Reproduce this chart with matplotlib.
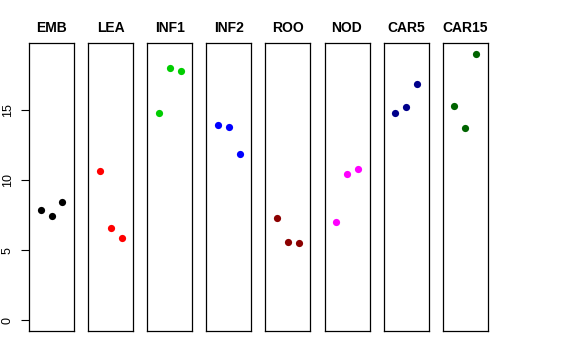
import matplotlib
matplotlib.use("Agg")
import matplotlib.pyplot as plt

plt.rcParams['font.family'] = ['Liberation Sans', 'DejaVu Sans']

tissues = ["EMB", "LEA", "INF1", "INF2", "ROO", "NOD", "CAR5", "CAR15"]
colors = ["black", "red", "#00CD00", "blue", "#8B0000", "magenta", "#00008B", "#006400"]
reps = [1, 2, 3]
emb = [7.88, 7.40, 8.40]
lea = [10.61, 6.58, 5.84]
inf1 = [14.80, 17.96, 17.77]
inf2 = [13.91, 13.79, 11.86]
roo = [7.31, 5.55, 5.48]
nod = [7.00, 10.44, 10.75]
car5 = [14.78, 15.23, 16.87]
car15 = [15.26, 13.72, 19.00]
values = [emb, lea, inf1, inf2, roo, nod, car5, car15]
yticks = [0, 5, 10, 15]

ymax = max(max(v) for v in values)
pad = 0.04 * ymax

fig = plt.figure(figsize=(5.76, 3.6), dpi=100)
W, H = 576.0, 360.0
for i, (name, col, vals) in enumerate(zip(tissues, colors, values)):
    left = (29 + i * 59.1) / W
    ax = fig.add_axes([left, (H - 331) / H, 45 / W, 288 / H])
    ax.scatter(reps, vals, color=col, s=27, zorder=3, linewidths=0)
    ax.set_xlim(-0.05, 4.05)
    ax.set_ylim(-pad, ymax + pad)
    ax.set_xticks([])
    for s in ax.spines.values():
        s.set_linewidth(0.9)
    ax.set_title(name, fontsize=10, fontweight='bold', pad=8)
    if i == 0:
        ax.set_yticks(yticks)
        ax.set_yticklabels([str(t) for t in yticks], rotation=90, va='center', fontsize=9)
        ax.tick_params(axis='y', length=6, width=0.8, pad=5)
    else:
        ax.set_yticks([])

fig.savefig("out.png", dpi=100)
